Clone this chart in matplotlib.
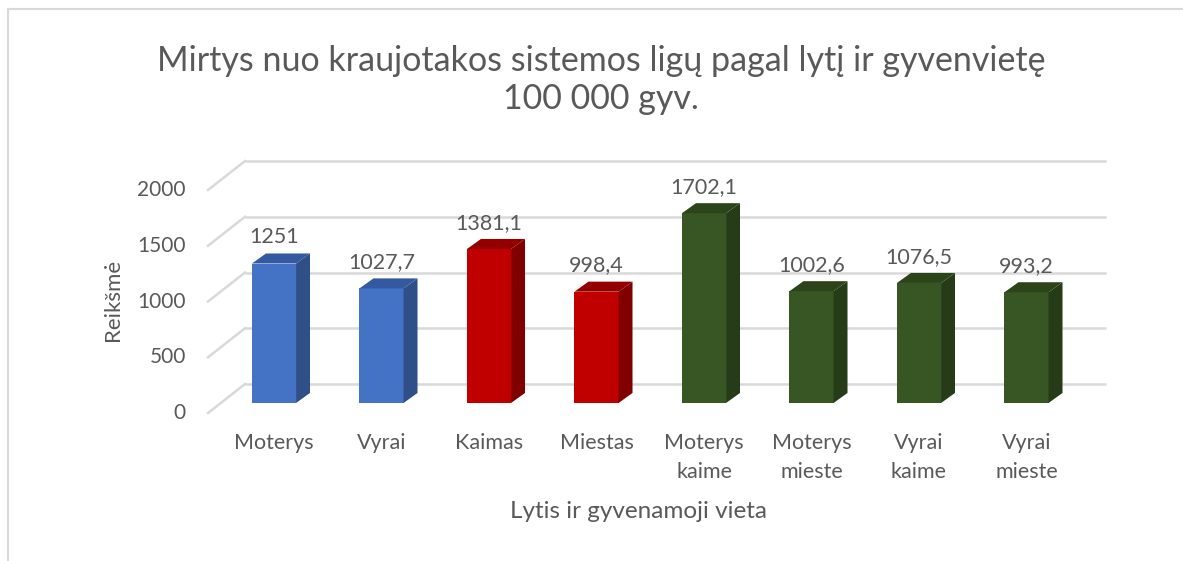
import matplotlib.pyplot as plt
from matplotlib.patches import Polygon

plt.rcParams['font.family'] = ['Lato', 'DejaVu Sans']

categories = ['Moterys', 'Vyrai', 'Kaimas', 'Miestas', 'Moterys\nkaime',
              'Moterys\nmieste', 'Vyrai\nkaime', 'Vyrai\nmieste']
values = [1251, 1027.7, 1381.1, 998.4, 1702.1, 1002.6, 1076.5, 993.2]
value_labels = ['1251', '1027,7', '1381,1', '998,4', '1702,1', '1002,6', '1076,5', '993,2']
y_ticks = [0, 500, 1000, 1500, 2000]

# front, side, top shades
blue = ('#4472C4', '#2F4F88', '#3559A0')
red = ('#C00000', '#800000', '#940000')
green = ('#375623', '#263C18', '#2B4419')
bar_colors = [blue, blue, red, red, green, green, green, green]

title = 'Mirtys nuo kraujotakos sistemos ligų pagal lytį ir gyvenvietę\n100 000 gyv.'
text_color = '#595959'
grid_color = '#D9D9D9'

W, H = 1183, 561
fig = plt.figure(figsize=(W / 100, H / 100), dpi=100)

# axes placed so one category = 107.5 px, 500 units = ~56 px
px_cat = 107.5
px_val = 0.1115
x0, x1 = -1, 8
y0, y1 = -150, 2300
left_px = 274 + x0 * px_cat
right_px = 274 + x1 * px_cat
bot_px = 403 - y0 * px_val
top_px = 403 - y1 * px_val
ax = fig.add_axes([left_px / W, 1 - bot_px / H, (right_px - left_px) / W, (bot_px - top_px) / H])
ax.set_xlim(x0, x1)
ax.set_ylim(y0, y1)
ax.axis('off')

# 3D wall offsets (data units)
back_dy = 170
front_dy = -90
wall_x_front = -0.614
wall_x_back = -0.27
wall_x_right = 7.74

for v in y_ticks:
    ax.plot([wall_x_back, wall_x_right], [v + back_dy, v + back_dy],
            color=grid_color, lw=1.8, zorder=1, solid_capstyle='butt')
    ax.plot([wall_x_front, wall_x_back], [v + front_dy, v + back_dy],
            color=grid_color, lw=1.8, zorder=1)
    ax.text(-0.82, v + front_dy, str(v), ha='right', va='center',
            fontsize=15, color=text_color)

width = 0.41
dx = 0.13
dy = 90
xs = list(range(len(categories)))
ax.bar(xs, values, width=width, color=[c[0] for c in bar_colors], zorder=3)
for x, v, c, lab in zip(xs, values, bar_colors, value_labels):
    r = x + width / 2
    l = x - width / 2
    ax.add_patch(Polygon([(r, 0), (r + dx, dy), (r + dx, v + dy), (r, v)],
                         closed=True, facecolor=c[1], edgecolor='none', zorder=3))
    ax.add_patch(Polygon([(l, v), (r, v), (r + dx, v + dy), (l + dx, v + dy)],
                         closed=True, facecolor=c[2], edgecolor='none', zorder=3))
    ax.text(x, v + dy + 55, lab, ha='center', va='bottom', fontsize=15.5, color=text_color)

for x, cat in zip(xs, categories):
    ax.text(x, -270, cat, ha='center', va='top', fontsize=15.5, color=text_color,
            linespacing=1.55)

fig.text(601 / W, 1 - 80 / H, title, ha='center', va='center', fontsize=24.5,
         color=text_color, linespacing=1.25)
fig.text(639 / W, 1 - 512 / H, 'Lytis ir gyvenamoji vieta', ha='center', va='center',
         fontsize=17.5, color=text_color)
fig.text(113 / W, 1 - 300 / H, 'Reikšmė', ha='center', va='center', rotation=90,
         fontsize=16, color=text_color)

# chart area border (left and top edges visible)
fig.add_artist(plt.Line2D([8 / W, 8 / W], [0, 1 - 9 / H], color=grid_color, lw=1.5))
fig.add_artist(plt.Line2D([8 / W, 1], [1 - 9 / H, 1 - 9 / H], color=grid_color, lw=1.5))

fig.savefig('out.png', dpi=100)
